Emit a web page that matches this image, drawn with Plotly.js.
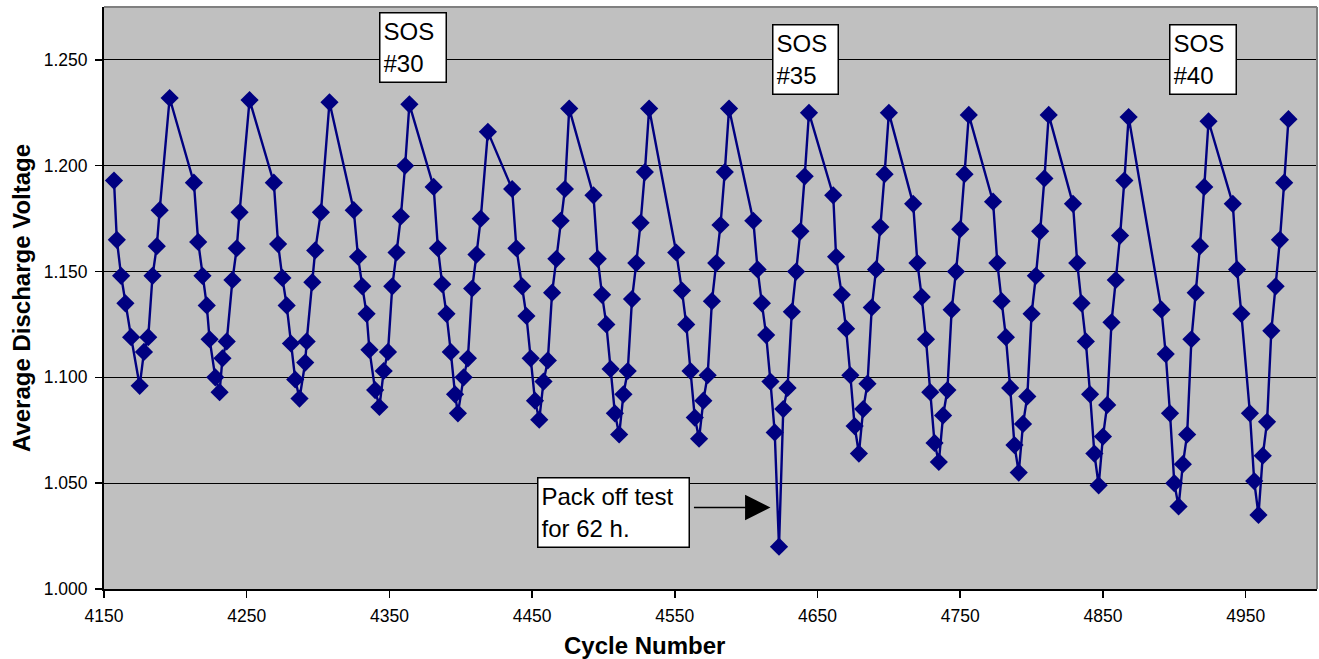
<!DOCTYPE html>
<html>
<head>
<meta charset="utf-8">
<script src="https://cdn.plot.ly/plotly-3.0.1.min.js"></script>
<style>html,body{margin:0;padding:0;background:#fff;}#chart{width:1319px;height:659px;}</style>
</head>
<body>
<div id="chart"></div>
<script>
// Cycle number (x) and average discharge voltage (y)
const cycleNumber = [
  4157,4159,4162,4165,4169,4175,4178,4181,4184,4187,4189,4196,
  4213,4216,4219,4222,4224,4228,4231,4233,4236,4240,4243,4245,4252,
  4269,4272,4275,4278,4281,4284,4287,4291,4292,4296,4298,4302,4308,
  4325,4328,4331,4334,4336,4340,4343,4346,4349,4352,4355,4358,4361,4364,
  4381,4384,4387,4390,4393,4396,4398,4402,4405,4408,4411,4414,4419,
  4436,4439,4443,4446,4449,4452,4455,4458,4461,4464,4467,4470,4473,4476,
  4493,4496,4499,4502,4505,4508,4511,4514,4517,4520,4523,4526,4529,4532,
  4551,4555,4558,4561,4564,4567,4570,4573,4576,4579,4582,4585,4588,
  4605,4608,4611,4614,4617,4620,4623,4626,4629,4632,4635,4638,4641,4644,
  4661,4663,4667,4670,4673,4676,4679,4682,4685,4688,4691,4694,4697,4700,
  4717,4720,4723,4726,4729,4732,4735,4738,4741,4744,4747,4750,4753,4756,
  4773,4776,4779,4782,4785,4788,4791,4794,4797,4800,4803,4806,4809,4812,
  4829,4832,4835,4838,4841,4844,4847,4850,4853,4856,4859,4862,4865,4868,
  4891,4894,4897,4900,4903,4906,4909,4912,4915,4918,4921,4924,
  4941,4944,4947,4953,4956,4959,4962,4965,4968,4971,4974,4977,4980
];
const avgVoltage = [
  1.193,1.165,1.148,1.135,1.119,1.096,1.112,1.119,1.148,1.162,1.179,1.232,
  1.192,1.164,1.148,1.134,1.118,1.100,1.093,1.109,1.117,1.146,1.161,1.178,1.231,
  1.192,1.163,1.147,1.134,1.116,1.099,1.090,1.107,1.117,1.145,1.160,1.178,1.230,
  1.179,1.157,1.143,1.130,1.113,1.094,1.086,1.103,1.112,1.143,1.159,1.176,1.200,1.229,
  1.190,1.161,1.144,1.130,1.112,1.092,1.083,1.100,1.109,1.142,1.158,1.175,1.216,
  1.189,1.161,1.143,1.129,1.109,1.089,1.080,1.098,1.108,1.140,1.156,1.174,1.189,1.227,
  1.186,1.156,1.139,1.125,1.104,1.083,1.073,1.092,1.103,1.137,1.154,1.173,1.197,1.227,
  1.159,1.141,1.125,1.103,1.081,1.071,1.089,1.101,1.136,1.154,1.172,1.197,1.227,
  1.174,1.151,1.135,1.120,1.098,1.074,1.020,1.085,1.095,1.131,1.150,1.169,1.195,1.225,
  1.186,1.157,1.139,1.123,1.101,1.077,1.064,1.085,1.097,1.133,1.151,1.171,1.196,1.225,
  1.182,1.154,1.138,1.118,1.093,1.069,1.060,1.082,1.094,1.132,1.150,1.170,1.196,1.224,
  1.183,1.154,1.136,1.119,1.095,1.068,1.055,1.078,1.091,1.130,1.148,1.169,1.194,1.224,
  1.182,1.154,1.135,1.117,1.092,1.064,1.049,1.072,1.087,1.126,1.146,1.167,1.193,1.223,
  1.132,1.111,1.083,1.050,1.039,1.059,1.073,1.118,1.140,1.162,1.190,1.221,
  1.182,1.151,1.130,1.083,1.051,1.035,1.063,1.079,1.122,1.143,1.165,1.192,1.222
];
const xTitle = 'Cycle Number';
const yTitle = 'Average Discharge Voltage';
const sosLabels = ['SOS<br>#30', 'SOS<br>#35', 'SOS<br>#40'];
const noteText = 'Pack off test<br>for 62 h.';

const FONT = 'Arial, "Liberation Sans", sans-serif';

const trace = {
  x: cycleNumber, y: avgVoltage, type: 'scatter', mode: 'lines+markers',
  line: {color: '#000080', width: 2.4},
  marker: {symbol: 'diamond', size: 14, color: '#000080', line: {width: 0}},
  hoverinfo: 'x+y', showlegend: false
};

const boxStyle = {
  xref: 'x', yref: 'y', xanchor: 'left', yanchor: 'top', showarrow: false,
  align: 'left', valign: 'middle', bgcolor: '#ffffff', bordercolor: '#000000',
  borderwidth: 1.5, borderpad: 3, font: {family: FONT, size: 24, color: '#000'}
};

const annotations = [
  Object.assign({}, boxStyle, {x: 4343, y: 1.2725, text: sosLabels[0], width: 59, height: 62}),
  Object.assign({}, boxStyle, {x: 4618, y: 1.2668, text: sosLabels[1], width: 58, height: 62}),
  Object.assign({}, boxStyle, {x: 4896.5, y: 1.2668, text: sosLabels[2], width: 59, height: 62}),
  Object.assign({}, boxStyle, {x: 4453.5, y: 1.0530, text: noteText, width: 144, height: 62}),
  {xref: 'x', yref: 'y', x: 4617, y: 1.0385, text: '', showarrow: true,
   axref: 'pixel', ayref: 'pixel', ax: -78, ay: 0,
   arrowhead: 2, arrowsize: 3.9, arrowwidth: 1.3, arrowcolor: '#000', standoff: 0},
  {xref: 'paper', yref: 'paper', x: (644-104)/1213, y: (588.7-661)/581.4,
   xanchor: 'center', yanchor: 'bottom', showarrow: false, text: xTitle,
   font: {family: FONT, size: 24, color: '#000', weight: 700}}
];

const layout = {
  width: 1319, height: 659,
  margin: {l: 104, r: 2, t: 7, b: 70, pad: 0},
  paper_bgcolor: '#ffffff', plot_bgcolor: '#C0C0C0',
  font: {family: FONT, color: '#000'},
  xaxis: {
    range: [4150, 5000], tick0: 4150, dtick: 100, tickmode: 'linear',
    showgrid: false, zeroline: false, showline: true, linecolor: '#000', linewidth: 2,
    ticks: 'outside', ticklen: 7, tickwidth: 1.5, tickcolor: '#000',
    tickfont: {family: FONT, size: 17.5, color: '#000'}, ticklabelstandoff: 3,
    automargin: false
  },
  yaxis: {
    range: [1.0, 1.275], tick0: 1.0, dtick: 0.05, tickmode: 'linear', tickformat: '.3f',
    showgrid: true, gridcolor: '#000', gridwidth: 1, zeroline: false,
    showline: true, linecolor: '#000', linewidth: 2,
    ticks: 'outside', ticklen: 7, tickwidth: 1.5, tickcolor: '#000',
    tickfont: {family: FONT, size: 17.5, color: '#000'}, ticklabelstandoff: 4,
    title: {text: yTitle, font: {family: FONT, size: 24, color: '#000', weight: 700}, standoff: 6},
    automargin: false
  },
  shapes: [
    {type: 'line', xref: 'paper', yref: 'paper', x0: 0, x1: 1, y0: 1, y1: 1, line: {color: '#808080', width: 2}, layer: 'above'},
    {type: 'line', xref: 'paper', yref: 'paper', x0: 1, x1: 1, y0: 0, y1: 1, line: {color: '#808080', width: 2}, layer: 'above'}
  ],
  annotations: annotations
};

Plotly.newPlot('chart', [trace], layout, {displayModeBar: false, staticPlot: true});
</script>
</body>
</html>
